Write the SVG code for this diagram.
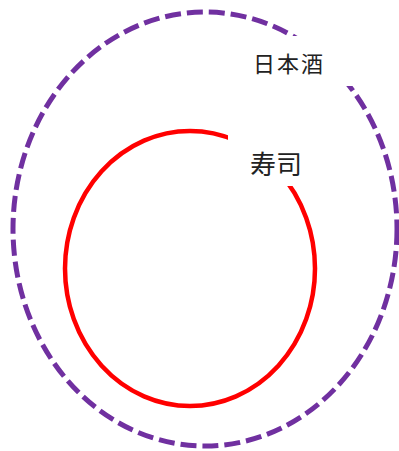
<svg xmlns="http://www.w3.org/2000/svg" width="399" height="451" viewBox="0 0 399 451">
<style>
.lbl{font-family:"Noto Sans CJK JP","Noto Sans CJK SC",sans-serif;fill:#222;text-anchor:middle}
.mask{fill:#fff}
</style>
<rect width="399" height="451" fill="#fff"/>
<g id="sake">
<ellipse cx="205" cy="229" rx="192" ry="217" fill="none" stroke="#7030a0" stroke-width="5" stroke-dasharray="16,6"/>
<rect class="mask" x="243" y="36" width="110" height="50"/>
<text class="lbl" x="289" y="72" font-size="22" letter-spacing="2">日本酒</text>
</g>
<g id="sushi">
<ellipse cx="190" cy="268.5" rx="125" ry="137.5" fill="none" stroke="#ff0000" stroke-width="4.5"/>
<rect class="mask" x="228" y="125" width="90" height="61"/>
<text class="lbl" x="276" y="174" font-size="26">寿司</text>
</g>
<g id="connectors"/>
</svg>
